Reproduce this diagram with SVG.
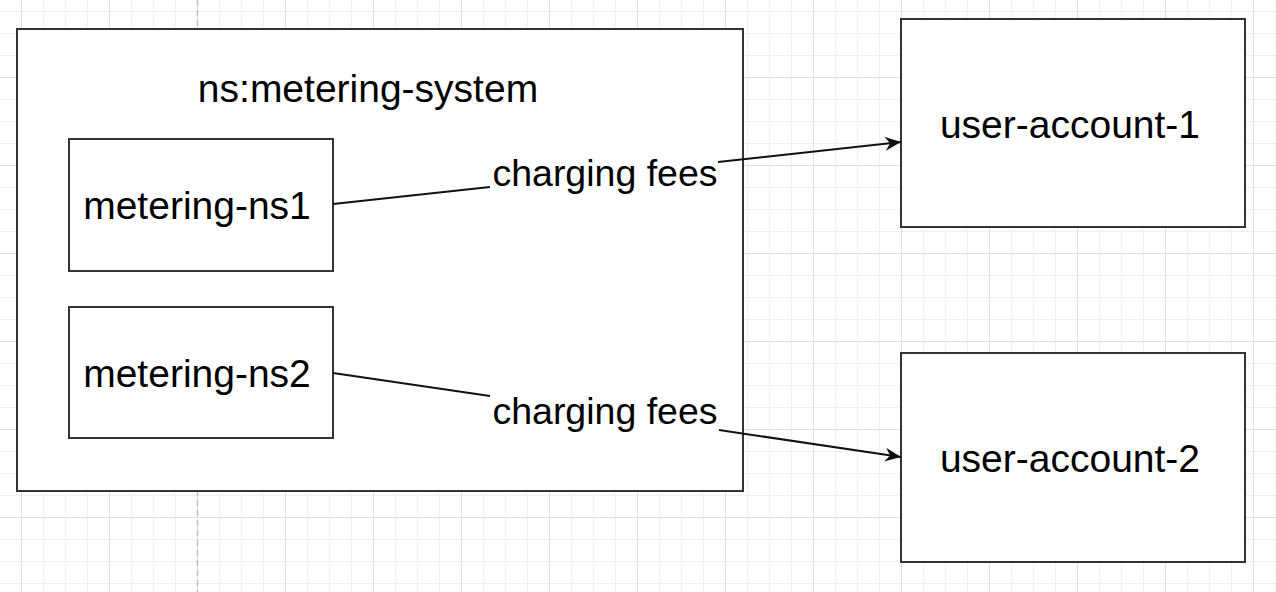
<svg xmlns="http://www.w3.org/2000/svg" width="1276" height="592" viewBox="0 0 1276 592">
  <style>
    .box { fill: #ffffff; stroke: #333333; stroke-width: 2; }
    .lbl { font-family: "Liberation Sans", Arial, Helvetica, sans-serif; font-size: 39px; fill: #000000; text-anchor: middle; }
    .elbl { font-family: "Liberation Sans", Arial, Helvetica, sans-serif; font-size: 37.5px; fill: #000000; text-anchor: middle; }
    .edge { fill: none; stroke: #111111; stroke-width: 2; }
  </style>
  <defs>
    <pattern id="grid" patternUnits="userSpaceOnUse" x="21" y="77" width="88" height="88">
      <g stroke="#f0f0f0" stroke-width="1">
        <line x1="22.5" y1="0" x2="22.5" y2="88"/>
        <line x1="44.5" y1="0" x2="44.5" y2="88"/>
        <line x1="66.5" y1="0" x2="66.5" y2="88"/>
        <line x1="0" y1="22.5" x2="88" y2="22.5"/>
        <line x1="0" y1="44.5" x2="88" y2="44.5"/>
        <line x1="0" y1="66.5" x2="88" y2="66.5"/>
      </g>
      <g stroke="#e0e0e0" stroke-width="1">
        <line x1="0.5" y1="0" x2="0.5" y2="88"/>
        <line x1="0" y1="0.5" x2="88" y2="0.5"/>
      </g>
    </pattern>
    <marker id="arrow" markerUnits="userSpaceOnUse" markerWidth="18" markerHeight="16" refX="16" refY="8" orient="auto">
      <path d="M0,1 L16,8 L0,15 L5,8 Z" fill="#111111"/>
    </marker>
  </defs>

  <rect x="0" y="0" width="1276" height="592" fill="#ffffff"/>
  <rect x="0" y="0" width="1276" height="592" fill="url(#grid)"/>
  <line x1="197.5" y1="0" x2="197.5" y2="592" stroke="#bdbdbd" stroke-width="1.5" stroke-dasharray="6 4"/>

  <g id="metering-system">
    <rect class="box" x="17" y="29" width="726" height="462"/>
    <text class="lbl" x="368" y="102">ns:metering-system</text>
  </g>
  <g id="metering-ns1">
    <rect class="box" x="69" y="139" width="264" height="132"/>
    <text class="lbl" x="197" y="219">metering-ns1</text>
  </g>
  <g id="metering-ns2">
    <rect class="box" x="69" y="307" width="264" height="131"/>
    <text class="lbl" x="197" y="387">metering-ns2</text>
  </g>
  <g id="user-account-1">
    <rect class="box" x="901" y="19" width="344" height="208"/>
    <text class="lbl" x="1070" y="138">user-account-1</text>
  </g>
  <g id="user-account-2">
    <rect class="box" x="901" y="353" width="344" height="209"/>
    <text class="lbl" x="1070" y="472">user-account-2</text>
  </g>

  <g id="connectors">
    <path class="edge" d="M333,204 L490,187"/>
    <path class="edge" d="M718,162 L901,142" marker-end="url(#arrow)"/>
    <text class="elbl" x="605" y="186">charging fees</text>
    <path class="edge" d="M333,373 L490,396"/>
    <path class="edge" d="M719,430 L901,457" marker-end="url(#arrow)"/>
    <text class="elbl" x="605" y="424">charging fees</text>
  </g>
</svg>
